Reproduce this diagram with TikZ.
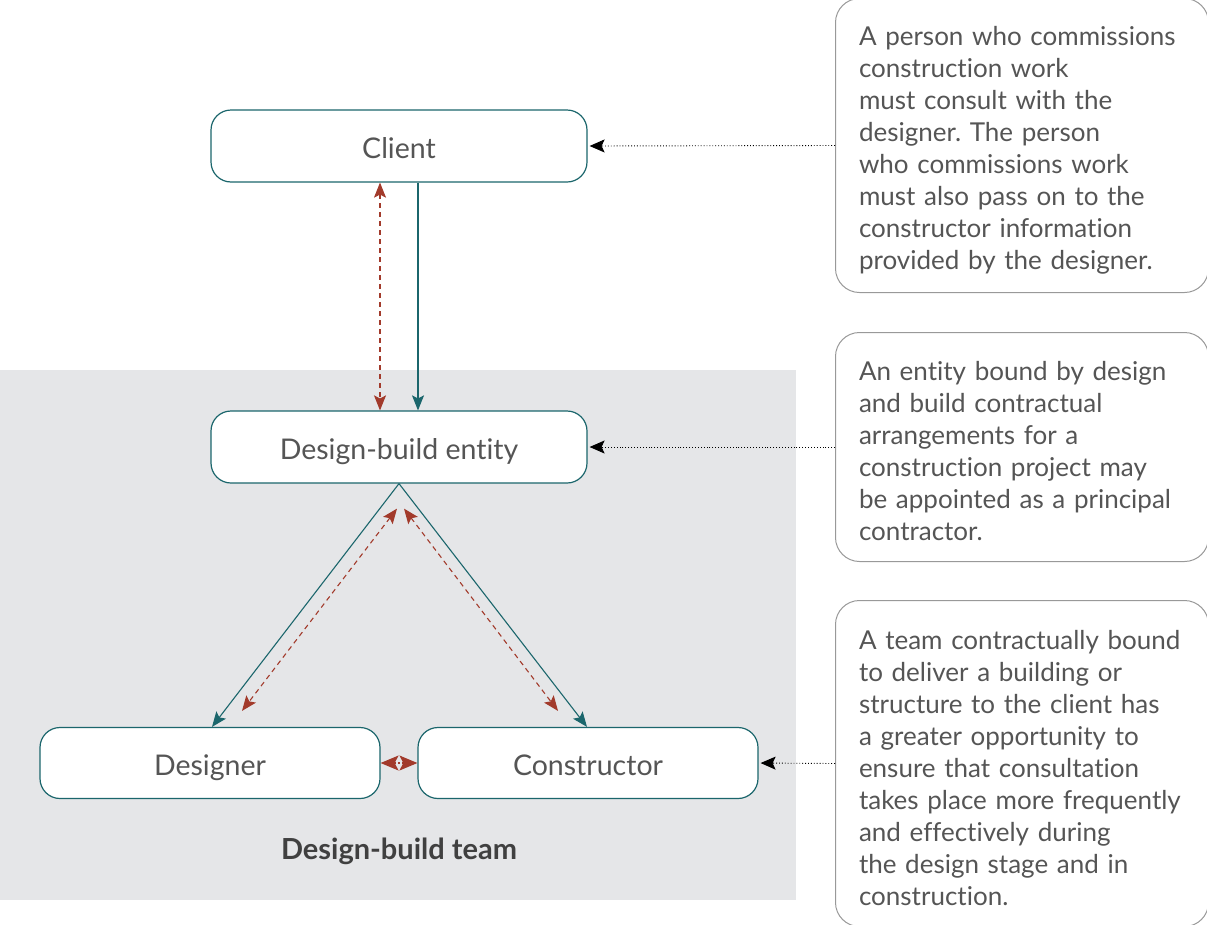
\documentclass[tikz,border=0pt]{standalone}
\usepackage{fontspec}
\setmainfont{Lato}[Ligatures=NoCommon]
\usepackage{xcolor}
\usetikzlibrary{arrows.meta}
\frenchspacing

\definecolor{teal}{HTML}{1B666C}
\definecolor{rust}{HTML}{A23A2B}
\definecolor{panel}{HTML}{E5E6E8}
\definecolor{ink}{HTML}{555555}

\newcommand{\topline}{\rule{0pt}{28pt}}

\begin{document}
\begin{tikzpicture}[x=1pt, y=-1pt,
    role/.style={draw=teal, line width=1.2pt, fill=white, rounded corners=20pt,
        minimum width=376pt, minimum height=72pt, text=ink, text height=27pt, text depth=3pt,
        font=\fontsize{28.5}{32}\selectfont},
    note/.style={draw=black!40, line width=1pt, fill=white, rounded corners=24pt,
        anchor=north west, minimum width=373pt, text width=326pt, align=left,
        inner xsep=23pt, text=ink, font=\fontsize{26}{32}\selectfont},
    flow/.style={teal, line width=1.1pt, -{Stealth[length=15pt, width=12pt, inset=3pt]}},
    talk/.style={rust, line width=1.1pt, dashed, dash pattern=on 5pt off 4pt,
        {Stealth[length=15pt, width=12pt, inset=3pt]}-{Stealth[length=15pt, width=12pt, inset=3pt]}},
    hint/.style={black, line width=0.9pt, dotted, -{Stealth[length=15pt, width=13pt, inset=3pt]}, shorten >=2pt}]
    \useasboundingbox (0,0) rectangle (1207,924);

    % Team panel
    \fill[panel] (0,370) rectangle (796,900);
    \node[font=\bfseries\fontsize{29}{32}\selectfont, text=black!75] (team) at (399,851) {Design-build team};

    % Parties
    \node[role] (client) at (399,146) {Client};
    \node[role] (entity) at (399,447) {Design-build entity};
    \node[role, minimum width=340pt, minimum height=71pt] (designer) at (210,763) {Designer};
    \node[role, minimum width=340pt, minimum height=71pt] (builder) at (588,763) {Constructor};

    % Notes
    \node[note, minimum height=294pt] (note1) at (835,-2) {\topline A person who commissions\\construction work\\must consult with the\\designer. The person\\who commissions work\\must also pass on to the\\constructor information\\provided by the designer.};
    \node[note, minimum height=229pt] (note2) at (835,332) {\topline An entity bound by design\\and build contractual\\arrangements for a\\construction project may\\be appointed as a principal\\contractor.};
    \node[note, minimum height=326pt] (note3) at (835,600) {\topline A team contractually bound\\to deliver a building or\\structure to the client has\\a greater opportunity to\\ensure that consultation\\takes place more frequently\\and effectively during\\the design stage and in\\construction.};

    % Contracts
    \draw[flow] ([xshift=19]client.south) -- ([xshift=19]entity.north);
    \draw[flow] (entity.south) -- ([xshift=2]designer.north);
    \draw[flow] (entity.south) -- ([xshift=-1]builder.north);

    % Consultation
    \draw[talk] ([xshift=-19]client.south) -- ([xshift=-19]entity.north);
    \draw[talk] ([shift={(-2,25)}]entity.south) -- ([shift={(32,-16)}]designer.north);
    \draw[talk] ([shift={(5,25)}]entity.south) -- ([shift={(-30,-16)}]builder.north);
    \draw[rust, line width=1.1pt, dash pattern=on 2pt off 2pt,
        {Stealth[length=18pt, width=15pt, inset=4pt]}-{Stealth[length=18pt, width=15pt, inset=4pt]}] (designer.east) -- (builder.west);

    % Pointers from notes
    \draw[hint] (note1.west) -- (client.east);
    \draw[hint] (note2.west) -- (entity.east);
    \draw[hint] (note3.west) -- (builder.east);
\end{tikzpicture}
\end{document}
